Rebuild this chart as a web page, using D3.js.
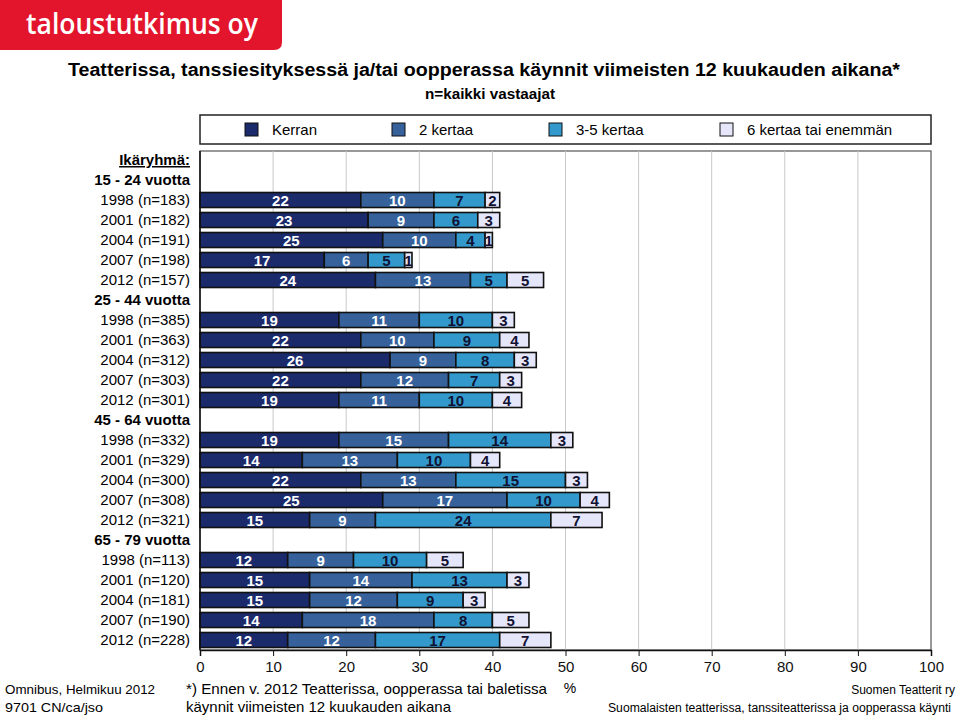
<!DOCTYPE html>
<html><head><meta charset="utf-8">
<script src="https://cdn.jsdelivr.net/npm/d3@7"></script>
<style>body{margin:0;background:#fff}svg{display:block;font-family:"Liberation Sans",Arial,sans-serif}</style>
</head><body><svg id="c" width="959" height="715"></svg>
<script>
const series = ["Kerran", "2 kertaa", "3-5 kertaa", "6 kertaa tai enemmän"];
const colors = ["#1b2a6b", "#36619b", "#3399cc", "#e6e6fa"];
const labelColors = ["#ffffff", "#ffffff", "#111133", "#111133"];
const groups = ["15 - 24 vuotta", "25 - 44 vuotta", "45 - 64 vuotta", "65 - 79 vuotta"];
const rowLabels = [
  ["1998 (n=183)", "2001 (n=182)", "2004 (n=191)", "2007 (n=198)", "2012 (n=157)"],
  ["1998 (n=385)", "2001 (n=363)", "2004 (n=312)", "2007 (n=303)", "2012 (n=301)"],
  ["1998 (n=332)", "2001 (n=329)", "2004 (n=300)", "2007 (n=308)", "2012 (n=321)"],
  ["1998 (n=113)", "2001 (n=120)", "2004 (n=181)", "2007 (n=190)", "2012 (n=228)"]
];
const kerran   = [22,23,25,17,24, 19,22,26,22,19, 19,14,22,25,15, 12,15,15,14,12];
const kaksi    = [10,9,10,6,13,   11,10,9,12,11,  15,13,13,17,9,   9,14,12,18,12];
const kolmeViisi = [7,6,4,5,5,    10,9,8,7,10,    14,10,15,10,24,  10,13,9,8,17];
const kuusi    = [2,3,1,1,5,      3,4,3,3,4,      3,4,3,4,7,       5,3,3,5,7];
const xTicks = [0,10,20,30,40,50,60,70,80,90,100];

const svg = d3.select("#c");

// logo
const lg = svg.append("g");
lg.append("path").attr("d","M0,0H282V42Q282,50 274,50H0Z").attr("fill","#e2152c");
lg.append("text").attr("x",26).attr("y",34).attr("fill","#fff")
  .attr("font-family","'Open Sans',sans-serif").attr("font-weight",600).attr("font-size",28)
  .attr("textLength",232).attr("lengthAdjust","spacingAndGlyphs").text("taloustutkimus oy");

// titles
svg.append("text").attr("x",68).attr("y",76).attr("font-weight","bold").attr("font-size",18)
  .attr("textLength",832).attr("lengthAdjust","spacingAndGlyphs")
  .text("Teatterissa, tanssiesityksessä ja/tai oopperassa käynnit viimeisten 12 kuukauden aikana*");
svg.append("text").attr("x",425).attr("y",99).attr("font-weight","bold").attr("font-size",14)
  .attr("textLength",130).attr("lengthAdjust","spacingAndGlyphs")
  .text("n=kaikki vastaajat");

// layout
const x0 = 200, x1 = 931, yTop = 150, yBot = 650;
const x = d3.scaleLinear().domain([0,100]).range([x0,x1]);

// rows
const rows = [{label:"Ikäryhmä:", type:"head"}];
let k = 0;
groups.forEach((g,gi)=>{
  rows.push({label:g, type:"group"});
  rowLabels[gi].forEach(l=>{ rows.push({label:l, type:"data", idx:k}); k++; });
});
const y = d3.scaleBand().domain(d3.range(rows.length)).range([yTop,yBot]).paddingInner(0.25).paddingOuter(0.125);

// legend
svg.append("rect").attr("x",x0).attr("y",115).attr("width",x1-x0).attr("height",29)
  .attr("fill","#fff").attr("stroke","#222").attr("stroke-width",1.5);
const legX = [245, 392, 549, 720];
series.forEach((s,i)=>{
  svg.append("rect").attr("x",legX[i]).attr("y",123).attr("width",13).attr("height",13)
    .attr("fill",colors[i]).attr("stroke","#111").attr("stroke-width",1);
  svg.append("text").attr("x",legX[i]+27).attr("y",135).attr("font-size",15).text(s);
});

// plot frame & grid
svg.append("rect").attr("x",x0).attr("y",yTop+1).attr("width",x1-x0).attr("height",yBot-yTop-1)
  .attr("fill","none").attr("stroke","#555").attr("stroke-width",1.2);
svg.selectAll(".grid").data(xTicks.slice(1,-1)).join("line")
  .attr("x1",d=>x(d)).attr("x2",d=>x(d)).attr("y1",yTop+1).attr("y2",yBot)
  .attr("stroke","#c8c8c8").attr("stroke-width",1);

// bars
const data = kerran.map((v,i)=>[v,kaksi[i],kolmeViisi[i],kuusi[i]]);
rows.forEach((r,ri)=>{
  if(r.type!=="data") return;
  const vals = data[r.idx];
  let acc = 0;
  vals.forEach((v,si)=>{
    const xs = x(acc), xe = x(acc+v);
    svg.append("rect").attr("x",xs).attr("y",y(ri)).attr("width",xe-xs).attr("height",y.bandwidth())
      .attr("fill",colors[si]).attr("stroke","#111").attr("stroke-width",1.6);
    svg.append("text").attr("x",(xs+xe)/2).attr("y",y(ri)+y.bandwidth()/2+5.5)
      .attr("text-anchor","middle").attr("font-weight","bold").attr("font-size",15)
      .attr("fill",labelColors[si]).text(v);
    acc += v;
  });
});

// row labels
rows.forEach((r,ri)=>{
  const t = svg.append("text").attr("x",190).attr("y",y(ri)+y.bandwidth()/2+5)
    .attr("text-anchor","end").attr("font-size",15).text(r.label);
  if(r.type!=="data") t.attr("font-weight","bold");
  if(r.type==="head") t.attr("text-decoration","underline");
});

// axes
svg.append("line").attr("x1",x0).attr("x2",x0).attr("y1",yTop+1).attr("y2",yBot).attr("stroke","#111").attr("stroke-width",1.5);
const ax = svg.append("g").attr("transform",`translate(0,${yBot})`)
  .call(d3.axisBottom(x).tickValues(xTicks).tickSize(6).tickPadding(5).tickFormat(d3.format("d")));
ax.select(".domain").attr("stroke","#111").attr("stroke-width",1.5);
ax.selectAll(".tick line").attr("stroke","#111");
ax.selectAll("text").attr("font-size",15).attr("font-family","'Liberation Sans',Arial,sans-serif").attr("fill","#111");

// footer
svg.append("text").attr("x",570).attr("y",693).attr("text-anchor","middle").attr("font-size",14).text("%");
svg.append("text").attr("x",5).attr("y",694).attr("font-size",13)
  .attr("textLength",150).attr("lengthAdjust","spacingAndGlyphs").text("Omnibus, Helmikuu 2012");
svg.append("text").attr("x",5).attr("y",712).attr("font-size",13)
  .attr("textLength",98).attr("lengthAdjust","spacingAndGlyphs").text("9701 CN/ca/jso");
svg.append("text").attr("x",186).attr("y",694).attr("font-size",15)
  .attr("textLength",361).attr("lengthAdjust","spacingAndGlyphs")
  .text("*) Ennen v. 2012 Teatterissa, oopperassa tai baletissa");
svg.append("text").attr("x",186).attr("y",712).attr("font-size",15)
  .attr("textLength",265).attr("lengthAdjust","spacingAndGlyphs")
  .text("käynnit viimeisten 12 kuukauden aikana");
svg.append("text").attr("x",955).attr("y",694).attr("text-anchor","end").attr("font-size",12).text("Suomen Teatterit ry");
svg.append("text").attr("x",951).attr("y",712).attr("text-anchor","end").attr("font-size",12)
  .attr("textLength",343).attr("lengthAdjust","spacingAndGlyphs")
  .text("Suomalaisten teatterissa, tanssiteatterissa ja oopperassa käynti");
</script></body></html>
